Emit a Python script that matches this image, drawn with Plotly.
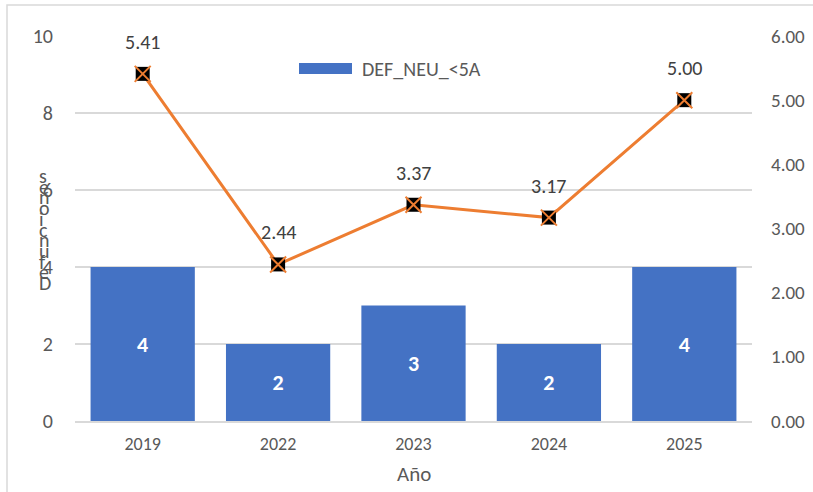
import plotly.graph_objects as go

years = ["2019", "2022", "2023", "2024", "2025"]
deaths = [4, 2, 3, 2, 4]
rate = [5.41, 2.44, 3.37, 3.17, 5.00]
series_name = "DEF_NEU_<5A"
y_title = "Defunciones"
x_title = "Año"

FONT = "Carlito, 'Liberation Sans Narrow', 'Open Sans', sans-serif"
GRAY = "#595959"
BLUE = "#4472C4"
ORANGE = "#ED7D31"

W, H = 813, 492
L, R, T, B = 75, 61, 36, 71
PW, PH = W - L - R, H - T - B

def px_x(x):
    return (x - L) / PW

def px_y(y):
    return (H - B - y) / PH

fig = go.Figure()
fig.add_trace(go.Bar(
    x=years, y=deaths, name=series_name, marker=dict(color=BLUE, line=dict(width=0)),
    text=[str(v) for v in deaths], textposition="inside", insidetextanchor="middle",
    textfont=dict(color="white", size=22, family=FONT, weight="bold"), textangle=0,
    showlegend=False, yaxis="y"))
fig.add_trace(go.Scatter(
    x=years, y=rate, mode="lines", line=dict(color=ORANGE, width=3),
    showlegend=False, yaxis="y2"))
fig.add_trace(go.Scatter(
    x=years, y=rate, mode="markers", marker=dict(symbol="square", size=14, color="black"),
    showlegend=False, yaxis="y2"))
fig.add_trace(go.Scatter(
    x=years, y=rate, mode="markers",
    marker=dict(symbol="x-thin", size=16, color=ORANGE, line=dict(color=ORANGE, width=2)),
    showlegend=False, yaxis="y2"))

annotations = []
for i, v in enumerate(rate):
    annotations.append(dict(x=i, y=v, xref="x", yref="y2", text=f"{v:.2f}",
                            showarrow=False, yshift=32, yanchor="middle",
                            font=dict(size=20, color="#404040", family=FONT)))

# stacked (upright, reversed) axis title like the original
chars = list(y_title)[::-1]
top_y, step = 176, 10.7
for i, ch in enumerate(chars):
    annotations.append(dict(x=px_x(37), y=px_y(top_y + i * step), xref="paper", yref="paper",
                            text=ch, showarrow=False, yanchor="middle",
                            font=dict(size=20, color=GRAY, family=FONT)))

annotations.append(dict(x=0.5, y=px_y(474), xref="paper", yref="paper", text=x_title,
                        showarrow=False, yanchor="middle",
                        font=dict(size=21, color=GRAY, family=FONT)))
annotations.append(dict(x=px_x(360), y=px_y(69), xref="paper", yref="paper", text=series_name,
                        showarrow=False, xanchor="left", yanchor="middle",
                        font=dict(size=20, color=GRAY, family=FONT)))

shapes = [
    dict(type="rect", xref="paper", yref="paper", x0=px_x(299), x1=px_x(352),
         y0=px_y(74), y1=px_y(63), fillcolor=BLUE, line=dict(width=0)),
    dict(type="rect", xref="paper", yref="paper", x0=px_x(7), x1=px_x(830),
         y0=px_y(520), y1=px_y(5), fillcolor="rgba(0,0,0,0)",
         line=dict(color="#D9D9D9", width=1.5), layer="below"),
]

fig.update_layout(
    width=W, height=H, margin=dict(l=L, r=R, t=T, b=B, autoexpand=False),
    paper_bgcolor="white", plot_bgcolor="white",
    bargap=0.23, font=dict(family=FONT, color=GRAY),
    xaxis=dict(type="category", range=[-0.5, 4.5], showgrid=False, showline=True,
               linecolor="#D9D9D9", linewidth=2, ticks="",
               tickfont=dict(size=18, color=GRAY), ticklabelstandoff=5),
    yaxis=dict(range=[0, 10], dtick=2, showgrid=True, gridcolor="#D9D9D9", gridwidth=1.5,
               zeroline=False, showline=False, ticks="", tickfont=dict(size=20, color=GRAY),
               ticklabelstandoff=21),
    yaxis2=dict(range=[0, 6], dtick=1, tickformat=".2f", overlaying="y", side="right",
                showgrid=False, zeroline=False, showline=False, ticks="",
                tickfont=dict(size=19, color=GRAY), ticklabelstandoff=18),
    annotations=annotations, shapes=shapes, showlegend=False,
)

fig.write_html("out.html", config={"displayModeBar": False},
               post_script="document.body.style.margin='0';")
